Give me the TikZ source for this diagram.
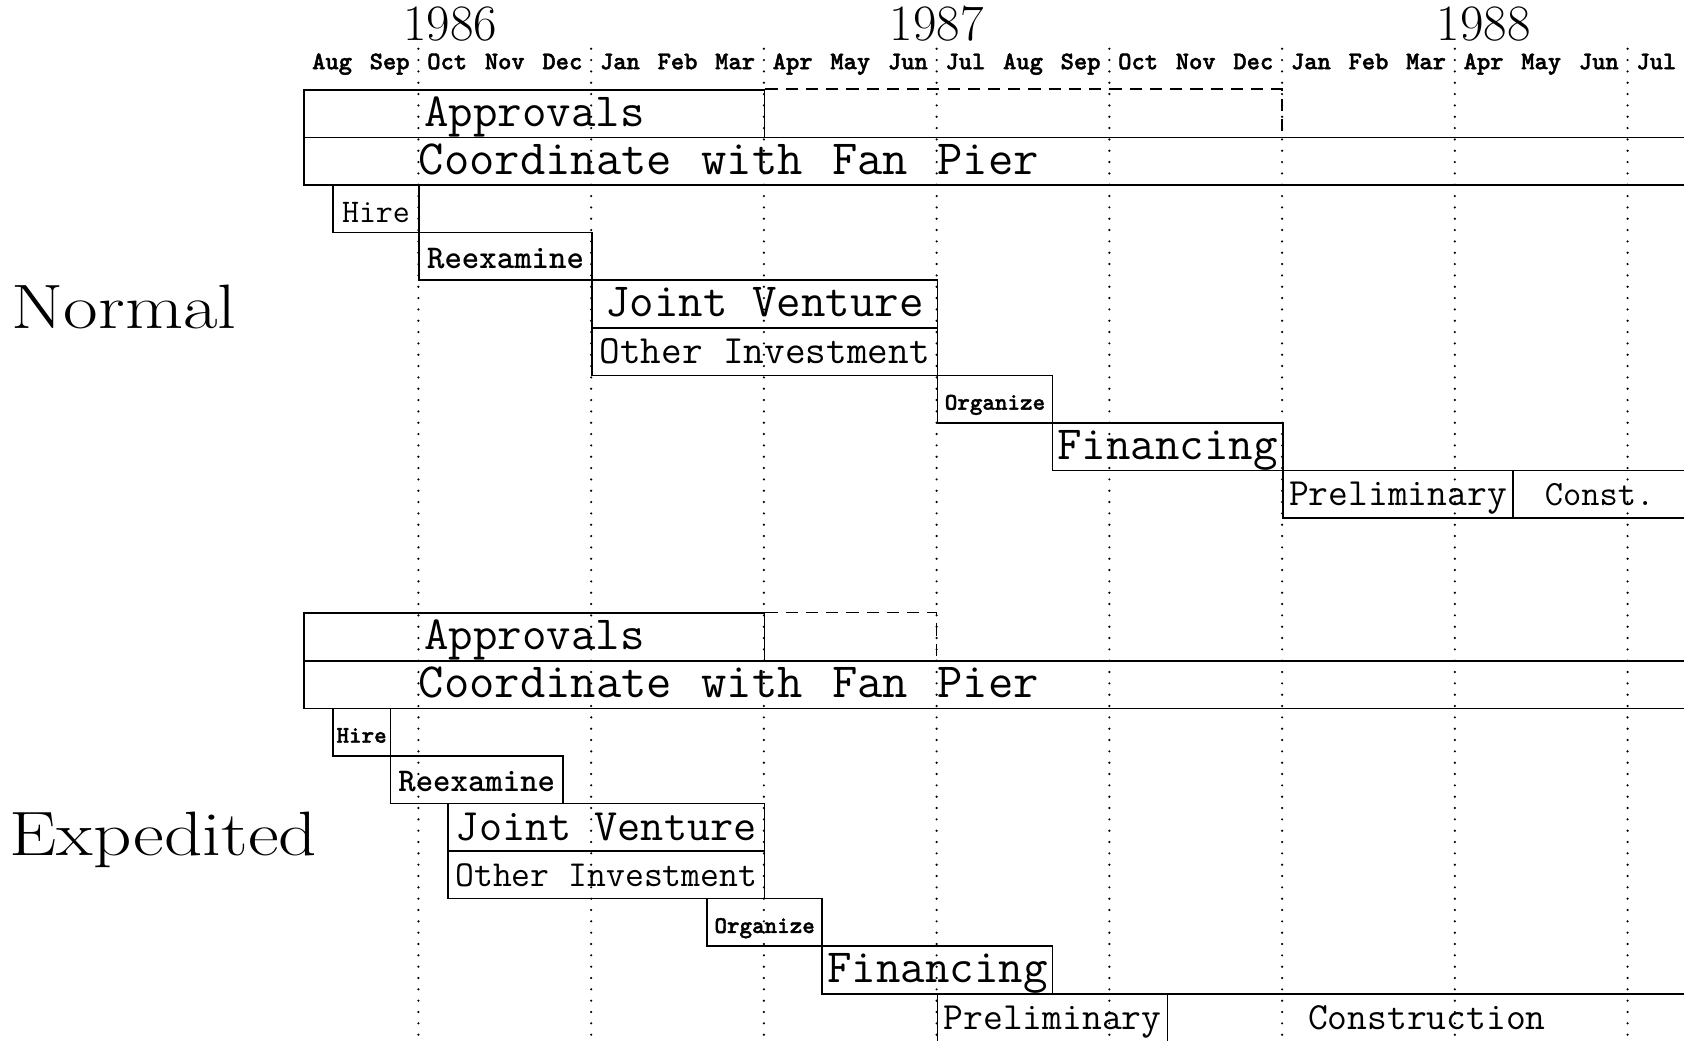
\documentclass[tikz,border=0pt]{standalone}
\usepackage{fontspec}
\usepackage{tikz}
\newfontfamily\darkmono{lmmonolt10-bold.otf}
\newfontfamily\heavymono[FakeBold=1.6]{lmmonolt10-bold.otf}

\begin{document}
\begin{tikzpicture}[
  x=1cm, y=-0.8262cm,
  bar/.style={draw, rectangle, line width=0.75pt, inner sep=0pt, anchor=north west, minimum height=0.8262cm, text depth=0pt},
  bigtxt/.style={font=\ttfamily\fontsize{23.5}{28}\selectfont, text height=12.7pt, text depth=0pt},
  midtxt/.style={font=\ttfamily\fontsize{19}{23}\selectfont, text height=11.3pt, text depth=0pt},
  hiretxt/.style={font=\ttfamily\fontsize{16.3}{20}\selectfont, text height=13.2pt, text depth=0pt},
  reextxt/.style={font=\darkmono\fontsize{16.4}{20}\selectfont, text height=12pt, text depth=0pt},
  smalltxt/.style={font=\heavymono\fontsize{11.8}{14}\selectfont, text height=10.4pt, text depth=0pt},
  month/.style={font=\heavymono\fontsize{12.5}{15}\selectfont, anchor=base, inner sep=0pt},
  year/.style={font=\fontsize{25.2}{30}\selectfont, anchor=base, inner sep=0pt},
  plan/.style={font=\fontsize{31}{37}\selectfont, anchor=base west, inner sep=0pt, xscale=1.2, transform shape},
  quarter/.style={line width=1.2pt, line cap=round, dash pattern=on 0pt off 5.6pt},
  tbd/.style={line width=0.75pt, dash pattern=on 6pt off 4pt}
]
\useasboundingbox (-5.267,-1.875) rectangle (23.98,19.995);

% Header - years and months
\node[year] (y1986) at (2.55,-1.02) {1986};
\node[year] (y1987) at (11,-1.02) {1987};
\node[year] (y1988) at (20.5,-1.02) {1988};
\foreach \mon [count=\i from 0] in {Aug,Sep,Oct,Nov,Dec,Jan,Feb,Mar,Apr,May,Jun,Jul,Aug,Sep,Oct,Nov,Dec,Jan,Feb,Mar,Apr,May,Jun,Jul}
  \node[month] (mon\i) at (\i+0.5,-0.42) {\mon};

% Plan names
\node[plan] (normal) at (-5.07,5.03) {Normal};
\node[plan] (expedited) at (-5.11,16.1) {Expedited};

% Normal schedule
\node[bar, bigtxt, minimum width=8cm] (apprN) at (0,0) {Approvals};
\coordinate (apprNend) at (17,1);
\draw[tbd] (apprN.north east) -| (apprNend);
\node[bar, minimum width=24cm] (coordN) at (0,1) {};
\node[bigtxt, font=\ttfamily\fontsize{24.3}{29}\selectfont, anchor=west, inner sep=0pt] (coordNtxt) at ([xshift=2cm]coordN.west) {Coordinate \hspace{2pt}with \hspace{2pt}Fan \hspace{2pt}Pier};
\node[bar, hiretxt, minimum width=1.5cm] (hireN) at (0.5,2) {Hire};
\node[bar, reextxt, minimum width=3cm] (reexN) at (2,3) {Reexamine};
\node[bar, bigtxt, minimum width=6cm] (jointN) at (5,4) {Joint Venture};
\node[bar, midtxt, font=\ttfamily\fontsize{19.8}{24}\selectfont, minimum width=6cm] (otherN) at (5,5) {Other Investment};
\node[bar, smalltxt, minimum width=2cm] (orgN) at (11,6) {Organize};
\node[bar, bigtxt, minimum width=4cm] (finN) at (13,7) {Financing};
\node[bar, midtxt, minimum width=4cm] (prelN) at (17,8) {Preliminary};
\node[bar, midtxt, font=\ttfamily\fontsize{17.5}{21}\selectfont, minimum width=3cm] (constN) at (21,8) {Const.};

% Expedited schedule
\node[bar, bigtxt, minimum width=8cm] (apprE) at (0,11) {Approvals};
\coordinate (apprEend) at (11,12);
\draw[tbd] (apprE.north east) -| (apprEend);
\node[bar, minimum width=24cm] (coordE) at (0,12) {};
\node[bigtxt, font=\ttfamily\fontsize{24.3}{29}\selectfont, anchor=west, inner sep=0pt] (coordEtxt) at ([xshift=2cm]coordE.west) {Coordinate \hspace{2pt}with \hspace{2pt}Fan \hspace{2pt}Pier};
\node[bar, smalltxt, minimum width=1cm] (hireE) at (0.5,13) {Hire};
\node[bar, reextxt, minimum width=3cm] (reexE) at (1.5,14) {Reexamine};
\node[bar, bigtxt, font=\ttfamily\fontsize{22.2}{26}\selectfont, minimum width=5.5cm] (jointE) at (2.5,15) {Joint Venture};
\node[bar, midtxt, font=\ttfamily\fontsize{18.1}{22}\selectfont, minimum width=5.5cm] (otherE) at (2.5,16) {Other Investment};
\node[bar, smalltxt, minimum width=2cm] (orgE) at (7,17) {Organize};
\node[bar, bigtxt, minimum width=4cm] (finE) at (9,18) {Financing};
\node[bar, midtxt, minimum width=4cm] (prelE) at (11,19) {Preliminary};
\node[bar, midtxt, minimum width=9cm] (consE) at (15,19) {Construction};

% Quarter lines
\foreach \q in {2,5,...,23}
  \draw[quarter] (\q,-0.85) -- (\q,20.1);

\end{tikzpicture}
\end{document}
